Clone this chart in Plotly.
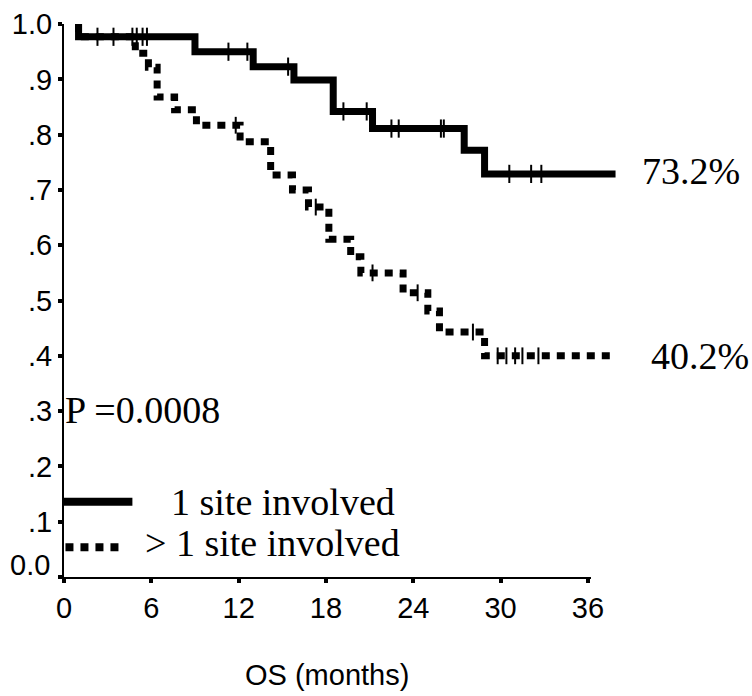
import plotly.graph_objects as go

# ---- data ----
solid_time = [1.0, 1.0, 9.0, 13.0, 15.8, 18.5, 21.2, 27.5, 28.9, 37.9]
solid_surv = [1.0, 0.977, 0.950, 0.923, 0.899, 0.842, 0.811, 0.772, 0.729, 0.729]
solid_cens_time = [2.3, 3.4, 4.7, 5.0, 5.4, 5.7, 11.3, 12.6, 15.4, 19.2, 20.8,
                   22.5, 23.0, 25.9, 26.1, 30.6, 32.1, 32.8]
solid_cens_surv = [0.977, 0.977, 0.977, 0.977, 0.977, 0.977, 0.950, 0.950, 0.923,
                   0.842, 0.842, 0.811, 0.811, 0.811, 0.811, 0.729, 0.729, 0.729]

dash_time = [1.0, 1.0, 4.9, 5.8, 6.4, 7.6, 9.1, 12.1, 14.2, 15.7, 16.8, 18.2,
             19.7, 20.4, 23.3, 25.0, 25.8, 28.9, 37.7]
dash_surv = [1.0, 0.977, 0.947, 0.922, 0.868, 0.845, 0.817, 0.787, 0.727, 0.700,
             0.669, 0.611, 0.579, 0.550, 0.514, 0.481, 0.443, 0.400, 0.400]
dash_cens_time = [11.8, 17.3, 21.2, 24.3, 28.1, 29.8, 30.4, 31.0, 31.5, 32.6]
dash_cens_surv = [0.817, 0.669, 0.550, 0.514, 0.443, 0.400, 0.400, 0.400, 0.400, 0.400]

x_ticks = [0, 6, 12, 18, 24, 30, 36]
y_ticks = [0.0, 0.1, 0.2, 0.3, 0.4, 0.5, 0.6, 0.7, 0.8, 0.9, 1.0]
y_ticktext = ["", ".1", ".2", ".3", ".4", ".5", ".6", ".7", ".8", ".9", "1.0"]
y_zero_label = "0.0"

series_names = ["1 site involved", "> 1 site involved"]
end_labels = ["73.2%", "40.2%"]
p_text = "P =0.0008"
x_title = "OS (months)"

# ---- layout constants ----
X_MAX = 38.0     # data axis extent (curves run past the drawn axis)
X_AXIS_END = 36.2
Y_MAX = 1.02

SERIF = "Liberation Serif, Times New Roman, serif"
SANS = "Liberation Sans, Arial, sans-serif"
SERIF_SIZE = 38
SANS_SIZE = 29

fig = go.Figure()

fig.add_trace(go.Scatter(x=solid_time, y=solid_surv, mode="lines",
                         line=dict(color="black", width=7, shape="hv"),
                         showlegend=False, hoverinfo="skip"))
fig.add_trace(go.Scatter(x=dash_time, y=dash_surv, mode="lines",
                         line=dict(color="black", width=7, shape="hv", dash="8px,7px"),
                         showlegend=False, hoverinfo="skip"))
fig.add_trace(go.Scatter(x=solid_cens_time, y=solid_cens_surv, mode="markers",
                         marker=dict(symbol="line-ns", size=13,
                                     line=dict(color="black", width=2)),
                         showlegend=False, hoverinfo="skip"))
fig.add_trace(go.Scatter(x=dash_cens_time, y=dash_cens_surv, mode="markers",
                         marker=dict(symbol="line-ns", size=12,
                                     line=dict(color="black", width=2)),
                         showlegend=False, hoverinfo="skip"))

# legend samples (drawn manually)
fig.add_trace(go.Scatter(x=[0, 4.7], y=[0.136, 0.136], mode="lines",
                         line=dict(color="black", width=8),
                         showlegend=False, hoverinfo="skip"))
fig.add_trace(go.Scatter(x=[0.1, 4.1], y=[0.054, 0.054], mode="lines",
                         line=dict(color="black", width=8, dash="8px,7px"),
                         showlegend=False, hoverinfo="skip"))

# dummy trace for visible axis subplot
fig.add_trace(go.Scatter(x=[None], y=[None], xaxis="x2", yaxis="y2",
                         showlegend=False, hoverinfo="skip"))

tf = dict(family=SERIF, size=SERIF_SIZE, color="black")
sf = dict(family=SANS, size=SANS_SIZE, color="black")
ann = [
    dict(x=solid_time[-1], y=solid_surv[-1] + 0.005, xref="x", yref="y",
         text=end_labels[0], showarrow=False, xanchor="left", yanchor="middle",
         xshift=24, font=tf),
    dict(x=dash_time[-1], y=dash_surv[-1], xref="x", yref="y",
         text=end_labels[1], showarrow=False, xanchor="left", yanchor="middle",
         xshift=36, font=tf),
    dict(x=0, y=0.302, xref="x", yref="y", text=p_text, showarrow=False,
         xanchor="left", yanchor="middle", xshift=-1, font=tf),
    dict(x=7.2, y=0.136, xref="x", yref="y", text=series_names[0],
         showarrow=False, xanchor="left", yanchor="middle", font=tf),
    dict(x=5.45, y=0.062, xref="x", yref="y", text=series_names[1],
         showarrow=False, xanchor="left", yanchor="middle", font=tf),
    dict(x=0, y=0, xref="x", yref="y", text=y_zero_label, showarrow=False,
         xanchor="right", yanchor="middle", xshift=-12, yshift=12, font=sf),
    dict(x=X_AXIS_END / 2, y=0, xref="x", yref="y", text=x_title, showarrow=False,
         xanchor="center", yanchor="middle", yshift=-98, font=sf),
]

fig.update_layout(
    width=752, height=696,
    margin=dict(l=64, r=135, t=13, b=119, autoexpand=False),
    paper_bgcolor="white", plot_bgcolor="rgba(0,0,0,0)",
    showlegend=False,
    annotations=ann,
    xaxis=dict(range=[0, X_MAX], visible=False, domain=[0, 1], automargin=False),
    yaxis=dict(range=[0, Y_MAX], visible=False, domain=[0, 1], automargin=False),
    xaxis2=dict(range=[0, X_AXIS_END], domain=[0, X_AXIS_END / X_MAX], anchor="y2",
                tickmode="array", tickvals=x_ticks, ticks="outside", ticklen=4,
                tickwidth=4, tickcolor="black", showline=True, linecolor="black",
                linewidth=2, showgrid=False, zeroline=False, automargin=False,
                tickfont=sf),
    yaxis2=dict(range=[0, 1.0], domain=[0, 1.0 / Y_MAX], anchor="x2",
                tickmode="array", tickvals=y_ticks, ticktext=y_ticktext,
                ticks="outside", ticklen=4, tickwidth=4, tickcolor="black",
                showline=True, linecolor="black", linewidth=2, showgrid=False,
                zeroline=False, automargin=False, tickfont=sf),
)

fig.write_html("out.html")
